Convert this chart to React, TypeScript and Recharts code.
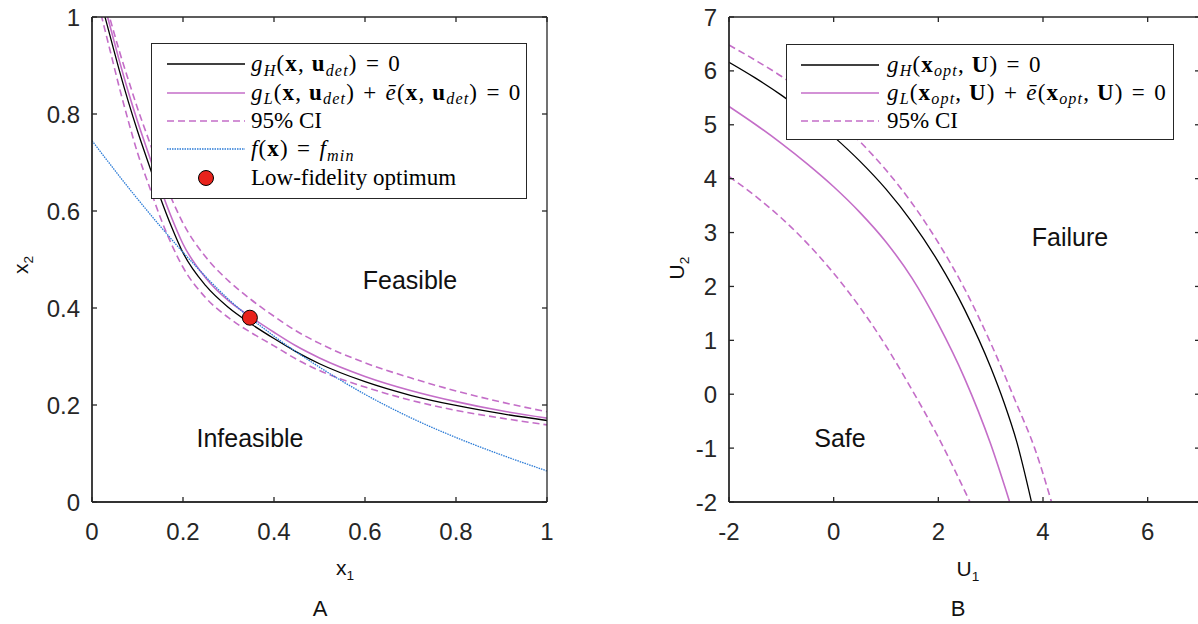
import React from 'react';
import { ComposedChart, Line, Scatter, XAxis, YAxis } from 'recharts';

// ---------- Panel A data ----------
const A_X = [0.02, 0.04, 0.06, 0.08, 0.1, 0.125, 0.15, 0.175, 0.2, 0.25, 0.3, 0.35, 0.4, 0.45, 0.5, 0.6, 0.7, 0.8, 0.9, 1.0];
const A_GH = [1.03, 0.96, 0.89, 0.825, 0.765, 0.696, 0.628, 0.567, 0.514, 0.446, 0.401, 0.367, 0.337, 0.309, 0.285, 0.248, 0.22, 0.199, 0.182, 0.168];
const A_GL = [1.05, 0.98, 0.91, 0.845, 0.785, 0.716, 0.648, 0.586, 0.532, 0.462, 0.415, 0.381, 0.35, 0.321, 0.297, 0.259, 0.23, 0.207, 0.188, 0.173];
const A_CI_UP = [1.06, 0.995, 0.93, 0.87, 0.812, 0.746, 0.682, 0.625, 0.575, 0.505, 0.456, 0.417, 0.383, 0.352, 0.327, 0.287, 0.256, 0.229, 0.206, 0.186];
const A_CI_LO = [1.005, 0.93, 0.855, 0.785, 0.72, 0.653, 0.587, 0.531, 0.484, 0.421, 0.38, 0.349, 0.322, 0.294, 0.271, 0.237, 0.21, 0.189, 0.173, 0.159];
const A_F_X = [0, 0.1, 0.2, 0.3, 0.4, 0.5, 0.6, 0.7, 0.8, 0.9, 1.0];
const A_F = [0.745, 0.625, 0.515, 0.418, 0.342, 0.278, 0.222, 0.174, 0.133, 0.097, 0.064];
const A_OPT_X = [0.347];
const A_OPT_Y = [0.38];
const A_TICKS = [0, 0.2, 0.4, 0.6, 0.8, 1];

// ---------- Panel B data ----------
const B_GH_X = [-2, -1.5, -1, -0.5, 0, 0.5, 1, 1.5, 2, 2.5, 3, 3.25, 3.5, 3.78];
const B_GH_Y = [6.16, 5.87, 5.55, 5.19, 4.78, 4.325, 3.805, 3.19, 2.455, 1.575, 0.5, -0.14, -0.89, -2.0];
const B_GL_X = [-2, -1.5, -1, -0.5, 0, 0.5, 1, 1.5, 2, 2.5, 3, 3.36];
const B_GL_Y = [5.34, 5.01, 4.655, 4.27, 3.85, 3.375, 2.825, 2.15, 1.3, 0.3, -0.925, -1.99];
const B_UP_X = [-2, -1.5, -1, -0.5, 0, 0.5, 1, 1.5, 2, 2.5, 3, 3.5, 3.84, 4.16];
const B_UP_Y = [6.48, 6.2, 5.9, 5.55, 5.15, 4.69, 4.16, 3.54, 2.81, 1.96, 0.95, -0.19, -1.0, -1.99];
const B_LO_X = [-2, -1.5, -1, -0.5, 0, 0.5, 1, 1.5, 2, 2.6];
const B_LO_Y = [4.04, 3.68, 3.27, 2.795, 2.245, 1.615, 0.895, 0.075, -0.8, -1.99];
const B_X_TICKS = [-2, 0, 2, 4, 6];
const B_Y_TICKS = [-2, -1, 0, 1, 2, 3, 4, 5, 6, 7];

const zip = (xs: number[], ys: number[]) => xs.map((x, i) => ({ x, y: ys[i] }));

const AX = '#262626';
const PURPLE = '#c46ec8';
const BLUE = '#2b7bd6';
const RED = '#e8231c';
const SANS = '"Liberation Sans", Arial, Helvetica, sans-serif';
const SERIF = '"Liberation Serif", "Times New Roman", serif';

const tickStyle = { fontFamily: SANS, fontSize: 24, fill: AX };
const NoLabel = () => <g />;

const Sub = ({ children }: { children: React.ReactNode }) => (
  <span style={{ fontSize: '0.7em', fontStyle: 'italic', position: 'relative', top: '0.3em' }}>{children}</span>
);
const B = ({ children }: { children: React.ReactNode }) => <b>{children}</b>;
const I = ({ children }: { children: React.ReactNode }) => <i>{children}</i>;
const Op = ({ children }: { children: React.ReactNode }) => <span style={{ margin: '0 0.06em' }}>{children}</span>;

const Sample = ({ kind }: { kind: string }) => {
  if (kind === 'dot') {
    return (
      <svg width={78} height={20} style={{ display: 'block' }}>
        <circle cx={39} cy={10} r={7.5} fill={RED} stroke="#000" strokeWidth={1} />
      </svg>
    );
  }
  const stroke = kind === 'black' ? '#000' : kind === 'blue' ? BLUE : PURPLE;
  const dash = kind === 'dash' ? '7 4' : kind === 'blue' ? '1.5 1' : undefined;
  const w = kind === 'black' ? 1.3 : 1.6;
  return (
    <svg width={78} height={20} style={{ display: 'block' }}>
      <line x1={0} y1={10} x2={78} y2={10} stroke={stroke} strokeWidth={w} strokeDasharray={dash} />
    </svg>
  );
};

type Row = { kind: string; label: React.ReactNode; y: number; math?: boolean };

const Legend = ({ left, top, width, height, rows, sampleX, textX }: { left: number; top: number; width: number; height: number; rows: Row[]; sampleX: number; textX: number }) => (
  <div style={{ position: 'absolute', left, top, width, height, boxSizing: 'border-box', border: `1.4px solid ${AX}`, background: '#fff' }}>
    {rows.map((r, i) => (
      <div key={i} style={{ position: 'absolute', left: 0, top: r.y - 14, height: 28, width: '100%' }}>
        <div style={{ position: 'absolute', left: sampleX, top: 4 }}>
          <Sample kind={r.kind} />
        </div>
        <div
          style={{
            position: 'absolute',
            left: textX,
            top: 0,
            height: 28,
            lineHeight: '28px',
            fontFamily: SERIF,
            fontSize: 23,
            letterSpacing: r.math ? '0.05em' : 'normal',
            color: '#000',
            whiteSpace: 'nowrap',
          }}
        >
          {r.label}
        </div>
      </div>
    ))}
  </div>
);

const Label = ({ x, y, children, size = 25, rotate = false }: { x: number; y: number; children: React.ReactNode; size?: number; rotate?: boolean }) => (
  <div
    style={{
      position: 'absolute',
      left: x,
      top: y,
      transform: `translate(-50%, -50%)${rotate ? ' rotate(-90deg)' : ''}`,
      fontFamily: SANS,
      fontSize: size,
      color: '#111',
      whiteSpace: 'nowrap',
      lineHeight: 1,
    }}
  >
    {children}
  </div>
);

const AxSub = ({ children }: { children: React.ReactNode }) => (
  <span style={{ fontSize: '0.65em', position: 'relative', top: '0.35em' }}>{children}</span>
);

const legendA: Row[] = [
  { kind: 'black', y: 20, math: true, label: <span><I>g</I><Sub>H</Sub>(<B>x</B>, <B>u</B><Sub>det</Sub>)<Op> = </Op>0</span> },
  { kind: 'solid', y: 48.5, math: true, label: <span><I>g</I><Sub>L</Sub>(<B>x</B>, <B>u</B><Sub>det</Sub>)<Op> + </Op><I>ē</I>(<B>x</B>, <B>u</B><Sub>det</Sub>)<Op> = </Op>0</span> },
  { kind: 'dash', y: 77, label: <span>95% CI</span> },
  { kind: 'blue', y: 105, math: true, label: <span><I>f</I>(<B>x</B>)<Op> = </Op><I>f</I><Sub>min</Sub></span> },
  { kind: 'dot', y: 133.5, label: <span>Low-fidelity optimum</span> },
];

const legendB: Row[] = [
  { kind: 'black', y: 19.5, math: true, label: <span><I>g</I><Sub>H</Sub>(<B>x</B><Sub>opt</Sub>, <B>U</B>)<Op> = </Op>0</span> },
  { kind: 'solid', y: 47.5, math: true, label: <span><I>g</I><Sub>L</Sub>(<B>x</B><Sub>opt</Sub>, <B>U</B>)<Op> + </Op><I>ē</I>(<B>x</B><Sub>opt</Sub>, <B>U</B>)<Op> = </Op>0</span> },
  { kind: 'dash', y: 75.5, label: <span>95% CI</span> },
];

const Dot = (p: any) => <circle cx={p.cx} cy={p.cy} r={7.5} fill={RED} stroke="#000" strokeWidth={1} />;

const ax = { stroke: AX, strokeWidth: 1.3, allowDataOverflow: true, type: 'number' as const };

// four framing axes (box with inward ticks) + labelled axes
function frameAxes(xDomain: number[], xTicks: number[], yDomain: number[], yTicks: number[], yWidth: number) {
  return [
    <XAxis key="xb" xAxisId="b" dataKey="x" {...ax} domain={xDomain} ticks={xTicks} tickLine={false} tickSize={0} tickMargin={21} height={30} tick={tickStyle} tickFormatter={(v) => String(v)} />,
    <XAxis key="xbm" xAxisId="bm" dataKey="x" {...ax} mirror orientation="bottom" domain={xDomain} ticks={xTicks} tickSize={5} tick={NoLabel} />,
    <XAxis key="xt" xAxisId="t" dataKey="x" {...ax} mirror orientation="top" domain={xDomain} ticks={xTicks} tickSize={5} tick={NoLabel} />,
    <YAxis key="yl" yAxisId="l" dataKey="y" {...ax} domain={yDomain} ticks={yTicks} tickLine={false} tickSize={0} tickMargin={12} width={yWidth} tick={tickStyle} tickFormatter={(v) => String(v)} />,
    <YAxis key="ylm" yAxisId="lm" dataKey="y" {...ax} mirror orientation="left" domain={yDomain} ticks={yTicks} tickSize={5} tick={NoLabel} />,
    <YAxis key="yr" yAxisId="r" dataKey="y" {...ax} mirror orientation="right" domain={yDomain} ticks={yTicks} tickSize={5} tick={NoLabel} />,
  ];
}

export default function App() {
  const gh = zip(A_X, A_GH);
  const gl = zip(A_X, A_GL);
  const up = zip(A_X, A_CI_UP);
  const lo = zip(A_X, A_CI_LO);
  const f = zip(A_F_X, A_F);
  const opt = zip(A_OPT_X, A_OPT_Y);

  const bgh = zip(B_GH_X, B_GH_Y);
  const bgl = zip(B_GL_X, B_GL_Y);
  const bup = zip(B_UP_X, B_UP_Y);
  const blo = zip(B_LO_X, B_LO_Y);

  const hidden = { stroke: 'none', dot: false, activeDot: false, isAnimationActive: false, legendType: 'none' as const };

  return (
    <div style={{ position: 'absolute', left: 0, top: 0, width: 1198, height: 624, overflow: 'hidden', background: '#fff' }}>
      <div style={{ position: 'absolute', left: 0, top: 0 }}>
        <ComposedChart width={560} height={624} margin={{ top: 17, right: 13, bottom: 92, left: 0 }}>
          {frameAxes([0, 1], A_TICKS, [0, 1], A_TICKS, 92)}
          <Line xAxisId="t" yAxisId="r" data={gh} dataKey="y" {...hidden} />
          <Line xAxisId="bm" yAxisId="lm" data={gh} dataKey="y" {...hidden} />
          <Line xAxisId="b" yAxisId="l" data={gh} dataKey="y" type="monotone" stroke="#000" strokeWidth={1.3} dot={false} isAnimationActive={false} />
          <Line xAxisId="b" yAxisId="l" data={gl} dataKey="y" type="monotone" stroke={PURPLE} strokeWidth={1.6} dot={false} isAnimationActive={false} />
          <Line xAxisId="b" yAxisId="l" data={up} dataKey="y" type="monotone" stroke={PURPLE} strokeWidth={1.6} strokeDasharray="7 4" dot={false} isAnimationActive={false} />
          <Line xAxisId="b" yAxisId="l" data={lo} dataKey="y" type="monotone" stroke={PURPLE} strokeWidth={1.6} strokeDasharray="7 4" dot={false} isAnimationActive={false} />
          <Line xAxisId="b" yAxisId="l" data={f} dataKey="y" type="monotone" stroke={BLUE} strokeWidth={1.3} strokeDasharray="1.5 1" dot={false} isAnimationActive={false} />
          <Scatter xAxisId="b" yAxisId="l" data={opt} dataKey="y" shape={Dot} isAnimationActive={false} />
        </ComposedChart>
      </div>

      <div style={{ position: 'absolute', left: 640, top: 0 }}>
        <ComposedChart width={565} height={624} margin={{ top: 17, right: 5, bottom: 92, left: 0 }}>
          {frameAxes([-2, 7], B_X_TICKS, [-2, 7], B_Y_TICKS, 89)}
          <Line xAxisId="t" yAxisId="r" data={bgh} dataKey="y" {...hidden} />
          <Line xAxisId="bm" yAxisId="lm" data={bgh} dataKey="y" {...hidden} />
          <Line xAxisId="b" yAxisId="l" data={bgh} dataKey="y" type="monotone" stroke="#000" strokeWidth={1.3} dot={false} isAnimationActive={false} />
          <Line xAxisId="b" yAxisId="l" data={bgl} dataKey="y" type="monotone" stroke={PURPLE} strokeWidth={1.6} dot={false} isAnimationActive={false} />
          <Line xAxisId="b" yAxisId="l" data={bup} dataKey="y" type="monotone" stroke={PURPLE} strokeWidth={1.6} strokeDasharray="7 4" dot={false} isAnimationActive={false} />
          <Line xAxisId="b" yAxisId="l" data={blo} dataKey="y" type="monotone" stroke={PURPLE} strokeWidth={1.6} strokeDasharray="7 4" dot={false} isAnimationActive={false} />
        </ComposedChart>
      </div>

      <Legend left={151} top={43} width={376} height={156} rows={legendA} sampleX={15} textX={99} />
      <Legend left={786} top={44} width={388} height={96} rows={legendB} sampleX={14} textX={100} />

      <Label x={410} y={280}>Feasible</Label>
      <Label x={250} y={438}>Infeasible</Label>
      <Label x={1070} y={237}>Failure</Label>
      <Label x={840} y={438}>Safe</Label>

      <Label x={345} y={567} size={21}>x<AxSub>1</AxSub></Label>
      <Label x={20} y={265} size={21} rotate>x<AxSub>2</AxSub></Label>
      <Label x={968} y={568} size={21}>U<AxSub>1</AxSub></Label>
      <Label x={676} y={268} size={21} rotate>U<AxSub>2</AxSub></Label>

      <Label x={320} y={609} size={22}>A</Label>
      <Label x={958} y={609} size={22}>B</Label>
    </div>
  );
}
